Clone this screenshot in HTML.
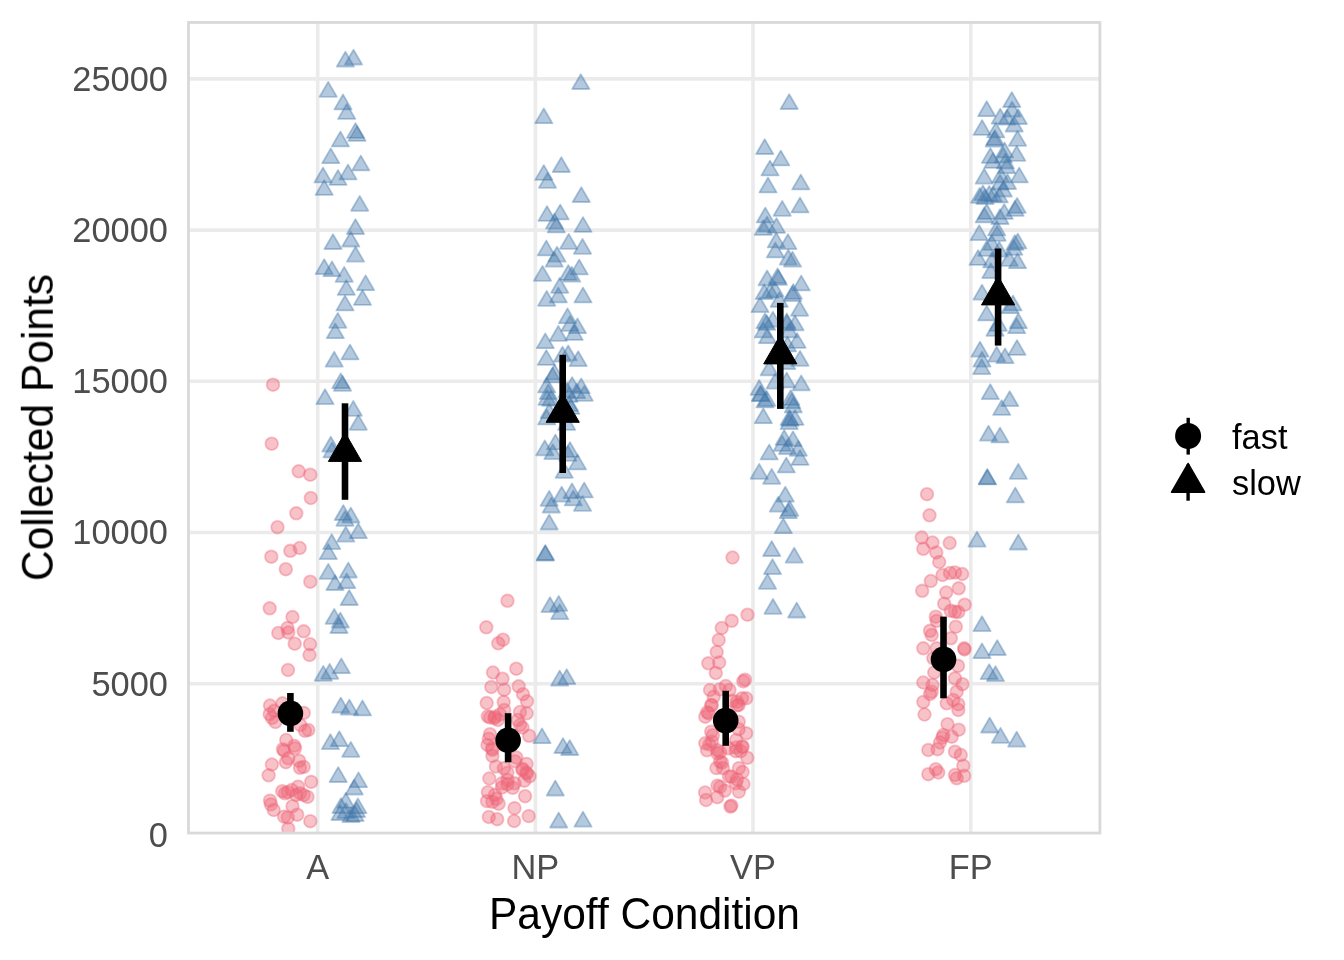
<!DOCTYPE html>
<html><head><meta charset="utf-8"><style>html,body{margin:0;padding:0;background:#fff;overflow:hidden}svg{display:block}text{font-family:"Liberation Sans",sans-serif}</style></head>
<body><svg width="1344" height="960" viewBox="0 0 1344 960"><rect width="1344" height="960" fill="#fff"/><g stroke="#EBEBEB" stroke-width="3.6"><line x1="188.5" x2="1099.9" y1="683.8" y2="683.8"/><line x1="188.5" x2="1099.9" y1="532.5" y2="532.5"/><line x1="188.5" x2="1099.9" y1="381.3" y2="381.3"/><line x1="188.5" x2="1099.9" y1="230.1" y2="230.1"/><line x1="188.5" x2="1099.9" y1="78.9" y2="78.9"/><line x1="317.7" x2="317.7" y1="22.4" y2="833"/><line x1="535.4" x2="535.4" y1="22.4" y2="833"/><line x1="753.0" x2="753.0" y1="22.4" y2="833"/><line x1="970.8" x2="970.8" y1="22.4" y2="833"/></g><defs><clipPath id="cp"><rect x="188.5" y="22.45" width="911.4" height="810.6"/></clipPath></defs><g clip-path="url(#cp)" fill="#EE6677" fill-opacity="0.4" stroke="#EE6677" stroke-opacity="0.4" stroke-width="1.8"><circle cx="273.0" cy="384.7" r="6.3"/><circle cx="271.7" cy="443.7" r="6.3"/><circle cx="298.7" cy="471.3" r="6.3"/><circle cx="310.3" cy="474.7" r="6.3"/><circle cx="310.8" cy="498.0" r="6.3"/><circle cx="296.3" cy="513.3" r="6.3"/><circle cx="277.5" cy="527.2" r="6.3"/><circle cx="299.7" cy="548.0" r="6.3"/><circle cx="290.3" cy="550.8" r="6.3"/><circle cx="271.3" cy="556.7" r="6.3"/><circle cx="285.8" cy="569.2" r="6.3"/><circle cx="310.3" cy="581.7" r="6.3"/><circle cx="269.7" cy="608.3" r="6.3"/><circle cx="292.5" cy="617.0" r="6.3"/><circle cx="287.5" cy="628.0" r="6.3"/><circle cx="278.3" cy="633.0" r="6.3"/><circle cx="288.3" cy="632.5" r="6.3"/><circle cx="303.7" cy="631.3" r="6.3"/><circle cx="294.7" cy="643.7" r="6.3"/><circle cx="310.0" cy="644.2" r="6.3"/><circle cx="309.5" cy="655.0" r="6.3"/><circle cx="288.0" cy="670.0" r="6.3"/><circle cx="270.0" cy="705.5" r="6.3"/><circle cx="269.7" cy="714.2" r="6.3"/><circle cx="275.4" cy="722.0" r="6.3"/><circle cx="274.2" cy="710.8" r="6.3"/><circle cx="282.5" cy="703.3" r="6.3"/><circle cx="303.8" cy="712.9" r="6.3"/><circle cx="300.4" cy="725.0" r="6.3"/><circle cx="308.3" cy="730.0" r="6.3"/><circle cx="305.0" cy="730.8" r="6.3"/><circle cx="286.2" cy="740.0" r="6.3"/><circle cx="294.2" cy="745.8" r="6.3"/><circle cx="282.9" cy="749.2" r="6.3"/><circle cx="271.9" cy="764.5" r="6.3"/><circle cx="285.9" cy="762.2" r="6.3"/><circle cx="299.1" cy="760.8" r="6.3"/><circle cx="303.7" cy="766.9" r="6.3"/><circle cx="300.0" cy="767.8" r="6.3"/><circle cx="268.6" cy="775.3" r="6.3"/><circle cx="282.2" cy="791.2" r="6.3"/><circle cx="287.8" cy="792.2" r="6.3"/><circle cx="298.1" cy="786.6" r="6.3"/><circle cx="311.2" cy="781.9" r="6.3"/><circle cx="307.5" cy="796.9" r="6.3"/><circle cx="296.2" cy="795.0" r="6.3"/><circle cx="303.7" cy="795.0" r="6.3"/><circle cx="270.0" cy="800.6" r="6.3"/><circle cx="270.9" cy="804.4" r="6.3"/><circle cx="273.7" cy="810.0" r="6.3"/><circle cx="292.5" cy="806.2" r="6.3"/><circle cx="284.1" cy="816.6" r="6.3"/><circle cx="297.2" cy="814.7" r="6.3"/><circle cx="287.8" cy="817.5" r="6.3"/><circle cx="310.3" cy="821.2" r="6.3"/><circle cx="288.3" cy="828.7" r="6.3"/><circle cx="272.0" cy="718.0" r="6.3"/><circle cx="284.2" cy="750.8" r="6.3"/><circle cx="288.3" cy="758.3" r="6.3"/><circle cx="295.0" cy="748.3" r="6.3"/><circle cx="291.7" cy="790.0" r="6.3"/><circle cx="300.0" cy="793.3" r="6.3"/><circle cx="285.0" cy="793.3" r="6.3"/><circle cx="507.5" cy="600.8" r="6.3"/><circle cx="486.3" cy="627.3" r="6.3"/><circle cx="503.0" cy="639.7" r="6.3"/><circle cx="498.3" cy="643.3" r="6.3"/><circle cx="493.0" cy="672.5" r="6.3"/><circle cx="516.3" cy="668.7" r="6.3"/><circle cx="502.5" cy="678.7" r="6.3"/><circle cx="491.3" cy="687.0" r="6.3"/><circle cx="504.2" cy="689.7" r="6.3"/><circle cx="518.7" cy="686.3" r="6.3"/><circle cx="523.0" cy="694.2" r="6.3"/><circle cx="527.0" cy="701.3" r="6.3"/><circle cx="486.7" cy="703.0" r="6.3"/><circle cx="503.7" cy="702.0" r="6.3"/><circle cx="520.0" cy="712.0" r="6.3"/><circle cx="526.7" cy="713.3" r="6.3"/><circle cx="490.0" cy="717.5" r="6.3"/><circle cx="495.0" cy="716.7" r="6.3"/><circle cx="504.2" cy="710.0" r="6.3"/><circle cx="497.8" cy="720.0" r="6.3"/><circle cx="520.0" cy="725.0" r="6.3"/><circle cx="529.2" cy="735.8" r="6.3"/><circle cx="490.0" cy="734.2" r="6.3"/><circle cx="487.5" cy="745.0" r="6.3"/><circle cx="492.0" cy="748.3" r="6.3"/><circle cx="492.4" cy="756.0" r="6.3"/><circle cx="516.3" cy="757.5" r="6.3"/><circle cx="526.5" cy="763.9" r="6.3"/><circle cx="495.9" cy="766.5" r="6.3"/><circle cx="503.9" cy="768.3" r="6.3"/><circle cx="522.5" cy="770.0" r="6.3"/><circle cx="526.9" cy="773.6" r="6.3"/><circle cx="529.6" cy="776.3" r="6.3"/><circle cx="489.3" cy="778.5" r="6.3"/><circle cx="507.4" cy="772.7" r="6.3"/><circle cx="502.1" cy="783.3" r="6.3"/><circle cx="507.4" cy="784.2" r="6.3"/><circle cx="514.5" cy="783.3" r="6.3"/><circle cx="524.3" cy="780.7" r="6.3"/><circle cx="512.7" cy="787.8" r="6.3"/><circle cx="487.9" cy="792.2" r="6.3"/><circle cx="495.0" cy="794.9" r="6.3"/><circle cx="487.0" cy="801.1" r="6.3"/><circle cx="492.4" cy="801.9" r="6.3"/><circle cx="498.6" cy="803.7" r="6.3"/><circle cx="525.1" cy="796.2" r="6.3"/><circle cx="514.5" cy="808.1" r="6.3"/><circle cx="488.8" cy="817.0" r="6.3"/><circle cx="497.2" cy="819.2" r="6.3"/><circle cx="514.1" cy="821.0" r="6.3"/><circle cx="528.7" cy="816.1" r="6.3"/><circle cx="487.8" cy="716.3" r="6.3"/><circle cx="494.4" cy="718.1" r="6.3"/><circle cx="500.0" cy="714.4" r="6.3"/><circle cx="517.8" cy="720.0" r="6.3"/><circle cx="522.5" cy="727.5" r="6.3"/><circle cx="492.5" cy="750.0" r="6.3"/><circle cx="488.8" cy="738.8" r="6.3"/><circle cx="522.5" cy="768.8" r="6.3"/><circle cx="526.3" cy="772.5" r="6.3"/><circle cx="515.0" cy="761.3" r="6.3"/><circle cx="507.5" cy="780.0" r="6.3"/><circle cx="501.9" cy="787.5" r="6.3"/><circle cx="496.3" cy="798.8" r="6.3"/><circle cx="732.5" cy="557.5" r="6.3"/><circle cx="747.5" cy="614.7" r="6.3"/><circle cx="731.7" cy="620.8" r="6.3"/><circle cx="721.7" cy="628.0" r="6.3"/><circle cx="718.7" cy="640.0" r="6.3"/><circle cx="716.7" cy="652.0" r="6.3"/><circle cx="708.3" cy="663.3" r="6.3"/><circle cx="719.2" cy="662.5" r="6.3"/><circle cx="715.8" cy="673.0" r="6.3"/><circle cx="745.0" cy="679.7" r="6.3"/><circle cx="743.3" cy="681.3" r="6.3"/><circle cx="710.0" cy="690.0" r="6.3"/><circle cx="725.8" cy="686.0" r="6.3"/><circle cx="729.5" cy="690.0" r="6.3"/><circle cx="713.7" cy="696.7" r="6.3"/><circle cx="742.0" cy="698.3" r="6.3"/><circle cx="746.2" cy="698.3" r="6.3"/><circle cx="737.0" cy="701.7" r="6.3"/><circle cx="738.7" cy="705.0" r="6.3"/><circle cx="711.2" cy="705.0" r="6.3"/><circle cx="705.3" cy="716.7" r="6.3"/><circle cx="708.7" cy="713.3" r="6.3"/><circle cx="738.7" cy="721.7" r="6.3"/><circle cx="711.2" cy="731.7" r="6.3"/><circle cx="746.2" cy="733.3" r="6.3"/><circle cx="738.7" cy="729.2" r="6.3"/><circle cx="705.3" cy="743.3" r="6.3"/><circle cx="712.0" cy="741.7" r="6.3"/><circle cx="736.2" cy="740.0" r="6.3"/><circle cx="742.0" cy="746.7" r="6.3"/><circle cx="728.7" cy="748.3" r="6.3"/><circle cx="717.0" cy="750.0" r="6.3"/><circle cx="707.0" cy="750.3" r="6.3"/><circle cx="720.1" cy="752.2" r="6.3"/><circle cx="736.0" cy="747.5" r="6.3"/><circle cx="740.7" cy="751.2" r="6.3"/><circle cx="747.3" cy="757.8" r="6.3"/><circle cx="720.1" cy="761.6" r="6.3"/><circle cx="716.4" cy="768.1" r="6.3"/><circle cx="723.0" cy="768.1" r="6.3"/><circle cx="738.9" cy="768.1" r="6.3"/><circle cx="742.6" cy="771.9" r="6.3"/><circle cx="731.4" cy="776.6" r="6.3"/><circle cx="737.0" cy="779.4" r="6.3"/><circle cx="743.5" cy="784.0" r="6.3"/><circle cx="720.1" cy="786.9" r="6.3"/><circle cx="724.8" cy="790.6" r="6.3"/><circle cx="738.9" cy="791.6" r="6.3"/><circle cx="705.1" cy="792.5" r="6.3"/><circle cx="706.1" cy="800.0" r="6.3"/><circle cx="717.3" cy="797.2" r="6.3"/><circle cx="731.4" cy="805.6" r="6.3"/><circle cx="730.4" cy="806.6" r="6.3"/><circle cx="719.8" cy="689.4" r="6.3"/><circle cx="711.8" cy="705.4" r="6.3"/><circle cx="707.2" cy="712.3" r="6.3"/><circle cx="732.4" cy="700.8" r="6.3"/><circle cx="737.0" cy="705.4" r="6.3"/><circle cx="709.5" cy="744.4" r="6.3"/><circle cx="712.9" cy="735.2" r="6.3"/><circle cx="717.5" cy="753.5" r="6.3"/><circle cx="735.8" cy="751.2" r="6.3"/><circle cx="742.7" cy="746.7" r="6.3"/><circle cx="722.1" cy="762.7" r="6.3"/><circle cx="729.0" cy="776.4" r="6.3"/><circle cx="717.5" cy="785.6" r="6.3"/><circle cx="735.8" cy="783.3" r="6.3"/><circle cx="927.0" cy="494.2" r="6.3"/><circle cx="929.5" cy="515.3" r="6.3"/><circle cx="921.7" cy="537.5" r="6.3"/><circle cx="932.5" cy="542.5" r="6.3"/><circle cx="949.7" cy="543.0" r="6.3"/><circle cx="923.3" cy="548.8" r="6.3"/><circle cx="936.3" cy="552.5" r="6.3"/><circle cx="939.2" cy="562.0" r="6.3"/><circle cx="942.5" cy="575.0" r="6.3"/><circle cx="950.0" cy="573.0" r="6.3"/><circle cx="955.0" cy="572.5" r="6.3"/><circle cx="962.2" cy="574.0" r="6.3"/><circle cx="930.8" cy="581.0" r="6.3"/><circle cx="922.2" cy="590.8" r="6.3"/><circle cx="946.2" cy="592.5" r="6.3"/><circle cx="958.7" cy="588.3" r="6.3"/><circle cx="944.2" cy="603.7" r="6.3"/><circle cx="964.7" cy="604.7" r="6.3"/><circle cx="950.8" cy="610.8" r="6.3"/><circle cx="955.0" cy="611.7" r="6.3"/><circle cx="958.3" cy="612.0" r="6.3"/><circle cx="935.8" cy="616.7" r="6.3"/><circle cx="936.7" cy="620.8" r="6.3"/><circle cx="955.8" cy="626.7" r="6.3"/><circle cx="930.0" cy="630.8" r="6.3"/><circle cx="931.7" cy="635.0" r="6.3"/><circle cx="950.8" cy="638.3" r="6.3"/><circle cx="923.3" cy="648.3" r="6.3"/><circle cx="964.2" cy="648.3" r="6.3"/><circle cx="964.5" cy="649.5" r="6.3"/><circle cx="936.7" cy="648.3" r="6.3"/><circle cx="933.3" cy="658.3" r="6.3"/><circle cx="958.0" cy="665.8" r="6.3"/><circle cx="934.2" cy="672.5" r="6.3"/><circle cx="923.3" cy="682.5" r="6.3"/><circle cx="932.5" cy="685.0" r="6.3"/><circle cx="931.7" cy="691.7" r="6.3"/><circle cx="955.0" cy="678.3" r="6.3"/><circle cx="962.5" cy="684.2" r="6.3"/><circle cx="956.7" cy="691.7" r="6.3"/><circle cx="930.0" cy="694.0" r="6.3"/><circle cx="923.3" cy="702.0" r="6.3"/><circle cx="946.7" cy="703.3" r="6.3"/><circle cx="953.3" cy="700.0" r="6.3"/><circle cx="958.3" cy="704.2" r="6.3"/><circle cx="958.3" cy="710.0" r="6.3"/><circle cx="924.5" cy="714.5" r="6.3"/><circle cx="947.5" cy="724.2" r="6.3"/><circle cx="958.7" cy="729.7" r="6.3"/><circle cx="943.3" cy="735.0" r="6.3"/><circle cx="942.5" cy="737.5" r="6.3"/><circle cx="951.7" cy="736.7" r="6.3"/><circle cx="940.0" cy="742.5" r="6.3"/><circle cx="937.5" cy="749.2" r="6.3"/><circle cx="928.3" cy="750.0" r="6.3"/><circle cx="955.0" cy="751.7" r="6.3"/><circle cx="960.8" cy="755.0" r="6.3"/><circle cx="963.3" cy="765.8" r="6.3"/><circle cx="935.8" cy="769.2" r="6.3"/><circle cx="938.3" cy="772.5" r="6.3"/><circle cx="928.3" cy="774.2" r="6.3"/><circle cx="955.0" cy="775.0" r="6.3"/><circle cx="956.7" cy="778.3" r="6.3"/><circle cx="964.2" cy="775.8" r="6.3"/></g><g clip-path="url(#cp)" fill="#4477AA" fill-opacity="0.4" stroke="#4477AA" stroke-opacity="0.4" stroke-width="1.8" stroke-linejoin="round"><path d="M345.4 51.7L354.0 66.5L336.8 66.5Z"/><path d="M353.5 49.7L362.1 64.5L344.9 64.5Z"/><path d="M328.2 81.9L336.8 96.8L319.6 96.8Z"/><path d="M343.0 94.5L351.6 109.4L334.4 109.4Z"/><path d="M346.7 104.0L355.3 118.9L338.1 118.9Z"/><path d="M355.5 123.1L364.1 137.9L346.9 137.9Z"/><path d="M357.0 126.1L365.6 140.9L348.4 140.9Z"/><path d="M340.4 131.6L349.0 146.4L331.8 146.4Z"/><path d="M330.8 148.4L339.4 163.2L322.2 163.2Z"/><path d="M360.8 155.6L369.4 170.4L352.2 170.4Z"/><path d="M323.0 167.6L331.6 182.4L314.4 182.4Z"/><path d="M348.0 164.6L356.6 179.4L339.4 179.4Z"/><path d="M338.0 170.1L346.6 184.9L329.4 184.9Z"/><path d="M324.2 180.1L332.8 194.9L315.6 194.9Z"/><path d="M359.7 195.9L368.3 210.8L351.1 210.8Z"/><path d="M355.5 219.2L364.1 234.0L346.9 234.0Z"/><path d="M333.0 234.2L341.6 249.0L324.4 249.0Z"/><path d="M350.8 231.7L359.4 246.5L342.2 246.5Z"/><path d="M355.5 246.7L364.1 261.6L346.9 261.6Z"/><path d="M324.2 259.2L332.8 274.1L315.6 274.1Z"/><path d="M332.0 261.4L340.6 276.2L323.4 276.2Z"/><path d="M344.2 266.9L352.8 281.8L335.6 281.8Z"/><path d="M365.6 275.4L374.2 290.2L357.0 290.2Z"/><path d="M346.3 280.1L354.9 294.9L337.7 294.9Z"/><path d="M362.5 290.1L371.1 304.9L353.9 304.9Z"/><path d="M345.0 295.6L353.6 310.4L336.4 310.4Z"/><path d="M337.8 312.9L346.4 327.8L329.2 327.8Z"/><path d="M335.3 323.4L343.9 338.2L326.7 338.2Z"/><path d="M350.0 344.6L358.6 359.4L341.4 359.4Z"/><path d="M334.2 351.7L342.8 366.6L325.6 366.6Z"/><path d="M340.8 373.4L349.4 388.2L332.2 388.2Z"/><path d="M342.5 375.9L351.1 390.8L333.9 390.8Z"/><path d="M325.0 389.2L333.6 404.1L316.4 404.1Z"/><path d="M353.3 400.9L361.9 415.8L344.7 415.8Z"/><path d="M358.3 414.9L366.9 429.8L349.7 429.8Z"/><path d="M330.8 436.7L339.4 451.6L322.2 451.6Z"/><path d="M332.0 442.6L340.6 457.4L323.4 457.4Z"/><path d="M343.3 505.1L351.9 520.0L334.7 520.0Z"/><path d="M350.8 507.6L359.4 522.5L342.2 522.5Z"/><path d="M345.0 510.9L353.6 525.8L336.4 525.8Z"/><path d="M358.3 523.4L366.9 538.2L349.7 538.2Z"/><path d="M345.8 526.7L354.4 541.6L337.2 541.6Z"/><path d="M331.7 534.2L340.3 549.1L323.1 549.1Z"/><path d="M328.3 544.2L336.9 559.1L319.7 559.1Z"/><path d="M328.3 563.9L336.9 578.8L319.7 578.8Z"/><path d="M348.3 562.6L356.9 577.5L339.7 577.5Z"/><path d="M335.0 575.1L343.6 590.0L326.4 590.0Z"/><path d="M346.7 573.4L355.3 588.2L338.1 588.2Z"/><path d="M349.2 590.1L357.8 605.0L340.6 605.0Z"/><path d="M334.2 608.9L342.8 623.8L325.6 623.8Z"/><path d="M340.3 612.6L348.9 627.5L331.7 627.5Z"/><path d="M339.0 618.1L347.6 633.0L330.4 633.0Z"/><path d="M341.3 658.4L349.9 673.2L332.7 673.2Z"/><path d="M329.7 663.9L338.3 678.8L321.1 678.8Z"/><path d="M323.3 665.9L331.9 680.8L314.7 680.8Z"/><path d="M340.8 697.6L349.4 712.5L332.2 712.5Z"/><path d="M349.4 699.6L358.0 714.5L340.8 714.5Z"/><path d="M362.5 700.5L371.1 715.4L353.9 715.4Z"/><path d="M330.4 734.2L339.0 749.1L321.8 749.1Z"/><path d="M339.3 731.3L347.9 746.2L330.7 746.2Z"/><path d="M350.8 741.9L359.4 756.8L342.2 756.8Z"/><path d="M338.2 767.1L346.8 782.0L329.6 782.0Z"/><path d="M358.5 772.4L367.1 787.2L349.9 787.2Z"/><path d="M354.2 779.6L362.8 794.5L345.6 794.5Z"/><path d="M345.8 793.0L354.4 807.9L337.2 807.9Z"/><path d="M341.0 798.1L349.6 813.0L332.4 813.0Z"/><path d="M357.9 798.4L366.5 813.2L349.3 813.2Z"/><path d="M356.5 802.1L365.1 817.0L347.9 817.0Z"/><path d="M346.0 803.1L354.6 818.0L337.4 818.0Z"/><path d="M351.0 807.1L359.6 822.0L342.4 822.0Z"/><path d="M340.0 805.1L348.6 820.0L331.4 820.0Z"/><path d="M355.0 806.1L363.6 821.0L346.4 821.0Z"/><path d="M580.8 74.2L589.4 89.0L572.2 89.0Z"/><path d="M543.8 108.4L552.4 123.2L535.2 123.2Z"/><path d="M561.3 157.2L569.9 172.0L552.7 172.0Z"/><path d="M543.8 165.1L552.4 179.9L535.2 179.9Z"/><path d="M547.5 172.9L556.1 187.8L538.9 187.8Z"/><path d="M581.3 187.2L589.9 202.0L572.7 202.0Z"/><path d="M547.0 206.1L555.6 220.9L538.4 220.9Z"/><path d="M560.2 204.6L568.8 219.4L551.6 219.4Z"/><path d="M554.5 213.8L563.1 228.6L545.9 228.6Z"/><path d="M556.3 217.6L564.9 232.4L547.7 232.4Z"/><path d="M583.0 217.1L591.6 231.9L574.4 231.9Z"/><path d="M546.3 240.6L554.9 255.4L537.7 255.4Z"/><path d="M568.7 233.9L577.3 248.8L560.1 248.8Z"/><path d="M582.5 238.9L591.1 253.8L573.9 253.8Z"/><path d="M557.0 246.7L565.6 261.6L548.4 261.6Z"/><path d="M554.2 251.7L562.8 266.6L545.6 266.6Z"/><path d="M542.5 265.9L551.1 280.8L533.9 280.8Z"/><path d="M579.2 259.6L587.8 274.4L570.6 274.4Z"/><path d="M568.3 265.1L576.9 279.9L559.7 279.9Z"/><path d="M571.7 266.7L580.3 281.6L563.1 281.6Z"/><path d="M559.7 277.9L568.3 292.8L551.1 292.8Z"/><path d="M558.3 287.6L566.9 302.4L549.7 302.4Z"/><path d="M546.7 290.9L555.3 305.8L538.1 305.8Z"/><path d="M583.0 287.6L591.6 302.4L574.4 302.4Z"/><path d="M567.5 308.4L576.1 323.2L558.9 323.2Z"/><path d="M570.0 315.9L578.6 330.8L561.4 330.8Z"/><path d="M577.5 318.4L586.1 333.2L568.9 333.2Z"/><path d="M558.3 325.9L566.9 340.8L549.7 340.8Z"/><path d="M574.2 325.1L582.8 339.9L565.6 339.9Z"/><path d="M545.3 333.4L553.9 348.2L536.7 348.2Z"/><path d="M546.3 350.1L554.9 364.9L537.7 364.9Z"/><path d="M562.5 346.7L571.1 361.6L553.9 361.6Z"/><path d="M568.2 345.5L576.8 360.3L559.6 360.3Z"/><path d="M578.2 351.3L586.8 366.1L569.6 366.1Z"/><path d="M554.6 364.6L563.2 379.4L546.0 379.4Z"/><path d="M552.5 367.6L561.1 382.4L543.9 382.4Z"/><path d="M546.7 377.6L555.3 392.4L538.1 392.4Z"/><path d="M548.3 384.3L556.9 399.1L539.7 399.1Z"/><path d="M547.0 390.1L555.6 404.9L538.4 404.9Z"/><path d="M550.8 390.9L559.4 405.8L542.2 405.8Z"/><path d="M572.1 377.1L580.7 391.9L563.5 391.9Z"/><path d="M581.2 378.4L589.8 393.2L572.7 393.2Z"/><path d="M567.1 382.6L575.7 397.4L558.5 397.4Z"/><path d="M576.7 383.4L585.3 398.2L568.1 398.2Z"/><path d="M584.2 385.9L592.8 400.8L575.6 400.8Z"/><path d="M569.0 387.1L577.6 401.9L560.4 401.9Z"/><path d="M549.2 403.4L557.8 418.2L540.6 418.2Z"/><path d="M546.7 409.6L555.3 424.4L538.1 424.4Z"/><path d="M569.2 395.9L577.8 410.8L560.6 410.8Z"/><path d="M570.8 399.1L579.4 413.9L562.2 413.9Z"/><path d="M566.7 415.1L575.3 429.9L558.1 429.9Z"/><path d="M555.4 434.6L564.0 449.4L546.8 449.4Z"/><path d="M544.8 440.5L553.4 455.3L536.2 455.3Z"/><path d="M552.9 444.2L561.5 459.1L544.3 459.1Z"/><path d="M570.0 442.1L578.6 456.9L561.4 456.9Z"/><path d="M567.9 445.9L576.5 460.8L559.3 460.8Z"/><path d="M577.5 454.6L586.1 469.4L568.9 469.4Z"/><path d="M564.2 463.0L572.8 477.8L555.6 477.8Z"/><path d="M549.2 490.9L557.8 505.8L540.6 505.8Z"/><path d="M561.7 486.7L570.3 501.6L553.1 501.6Z"/><path d="M572.0 483.4L580.6 498.2L563.4 498.2Z"/><path d="M584.2 482.6L592.8 497.4L575.6 497.4Z"/><path d="M573.3 490.6L581.9 505.4L564.7 505.4Z"/><path d="M582.5 495.9L591.1 510.8L573.9 510.8Z"/><path d="M551.3 497.6L559.9 512.5L542.7 512.5Z"/><path d="M549.2 514.6L557.8 529.5L540.6 529.5Z"/><path d="M545.3 545.1L553.9 560.0L536.7 560.0Z"/><path d="M545.3 545.6L553.9 560.5L536.7 560.5Z"/><path d="M550.0 597.2L558.6 612.1L541.4 612.1Z"/><path d="M558.7 595.9L567.3 610.8L550.1 610.8Z"/><path d="M559.7 604.2L568.3 619.1L551.1 619.1Z"/><path d="M559.7 670.6L568.3 685.5L551.1 685.5Z"/><path d="M566.7 669.2L575.3 684.1L558.1 684.1Z"/><path d="M542.0 728.4L550.6 743.2L533.4 743.2Z"/><path d="M563.0 738.1L571.6 753.0L554.4 753.0Z"/><path d="M569.7 740.1L578.3 755.0L561.1 755.0Z"/><path d="M555.3 780.6L563.9 795.5L546.7 795.5Z"/><path d="M558.7 812.6L567.3 827.5L550.1 827.5Z"/><path d="M583.0 811.7L591.6 826.6L574.4 826.6Z"/><path d="M789.2 94.2L797.8 109.0L780.6 109.0Z"/><path d="M764.7 139.2L773.3 154.0L756.1 154.0Z"/><path d="M780.8 150.6L789.4 165.4L772.2 165.4Z"/><path d="M770.0 160.6L778.6 175.4L761.4 175.4Z"/><path d="M768.0 177.6L776.6 192.4L759.4 192.4Z"/><path d="M800.8 174.6L809.4 189.4L792.2 189.4Z"/><path d="M782.2 200.9L790.8 215.8L773.6 215.8Z"/><path d="M800.0 197.6L808.6 212.4L791.4 212.4Z"/><path d="M765.3 207.6L773.9 222.4L756.7 222.4Z"/><path d="M767.0 216.7L775.6 231.5L758.4 231.5Z"/><path d="M763.3 220.1L771.9 234.9L754.7 234.9Z"/><path d="M776.5 218.1L785.1 232.9L767.9 232.9Z"/><path d="M776.2 232.6L784.8 247.4L767.7 247.4Z"/><path d="M787.9 234.3L796.5 249.1L779.3 249.1Z"/><path d="M775.4 242.6L784.0 257.4L766.8 257.4Z"/><path d="M788.3 249.7L796.9 264.6L779.7 264.6Z"/><path d="M792.5 251.8L801.1 266.6L783.9 266.6Z"/><path d="M767.1 270.5L775.7 285.3L758.5 285.3Z"/><path d="M777.5 268.4L786.1 283.2L768.9 283.2Z"/><path d="M778.3 270.1L786.9 284.9L769.7 284.9Z"/><path d="M801.2 275.6L809.8 290.4L792.7 290.4Z"/><path d="M793.3 284.1L801.9 298.9L784.7 298.9Z"/><path d="M764.2 284.3L772.8 299.1L755.6 299.1Z"/><path d="M770.0 283.1L778.6 297.9L761.4 297.9Z"/><path d="M775.0 281.8L783.6 296.6L766.4 296.6Z"/><path d="M792.5 286.3L801.1 301.1L783.9 301.1Z"/><path d="M779.2 292.1L787.8 306.9L770.6 306.9Z"/><path d="M760.0 297.2L768.6 312.1L751.4 312.1Z"/><path d="M799.6 300.9L808.2 315.8L791.0 315.8Z"/><path d="M772.9 311.7L781.5 326.6L764.3 326.6Z"/><path d="M766.7 315.1L775.3 329.9L758.1 329.9Z"/><path d="M765.0 313.4L773.6 328.2L756.4 328.2Z"/><path d="M787.1 315.1L795.7 329.9L778.5 329.9Z"/><path d="M789.2 322.6L797.8 337.4L780.6 337.4Z"/><path d="M795.0 315.5L803.6 330.3L786.4 330.3Z"/><path d="M763.3 322.6L771.9 337.4L754.7 337.4Z"/><path d="M767.5 328.4L776.1 343.2L758.9 343.2Z"/><path d="M797.1 333.1L805.7 347.9L788.5 347.9Z"/><path d="M787.5 336.6L796.1 351.4L778.9 351.4Z"/><path d="M800.0 350.9L808.6 365.8L791.4 365.8Z"/><path d="M786.7 313.4L795.3 328.2L778.1 328.2Z"/><path d="M786.7 354.3L795.3 369.1L778.1 369.1Z"/><path d="M769.2 360.5L777.8 375.3L760.6 375.3Z"/><path d="M775.0 373.8L783.6 388.6L766.4 388.6Z"/><path d="M786.7 372.6L795.3 387.4L778.1 387.4Z"/><path d="M801.2 375.5L809.8 390.3L792.7 390.3Z"/><path d="M759.2 380.1L767.8 394.9L750.6 394.9Z"/><path d="M760.4 386.3L769.0 401.1L751.8 401.1Z"/><path d="M765.0 392.6L773.6 407.4L756.4 407.4Z"/><path d="M766.7 390.9L775.3 405.8L758.1 405.8Z"/><path d="M760.8 385.9L769.4 400.8L752.2 400.8Z"/><path d="M790.8 390.1L799.4 404.9L782.2 404.9Z"/><path d="M791.7 393.4L800.3 408.2L783.1 408.2Z"/><path d="M793.3 397.6L801.9 412.4L784.7 412.4Z"/><path d="M763.3 408.4L771.9 423.2L754.7 423.2Z"/><path d="M789.2 410.1L797.8 424.9L780.6 424.9Z"/><path d="M790.0 410.9L798.6 425.8L781.4 425.8Z"/><path d="M789.2 414.2L797.8 429.1L780.6 429.1Z"/><path d="M795.0 410.1L803.6 424.9L786.4 424.9Z"/><path d="M784.2 430.1L792.8 444.9L775.6 444.9Z"/><path d="M793.0 431.4L801.6 446.2L784.4 446.2Z"/><path d="M787.5 439.2L796.1 454.1L778.9 454.1Z"/><path d="M798.3 440.9L806.9 455.8L789.7 455.8Z"/><path d="M800.0 450.1L808.6 464.9L791.4 464.9Z"/><path d="M769.2 444.6L777.8 459.4L760.6 459.4Z"/><path d="M786.3 457.6L794.9 472.4L777.7 472.4Z"/><path d="M759.2 463.9L767.8 478.8L750.6 478.8Z"/><path d="M771.7 468.9L780.3 483.8L763.1 483.8Z"/><path d="M785.3 486.7L793.9 501.6L776.7 501.6Z"/><path d="M778.3 496.7L786.9 511.6L769.7 511.6Z"/><path d="M789.7 500.9L798.3 515.8L781.1 515.8Z"/><path d="M788.3 503.4L796.9 518.2L779.7 518.2Z"/><path d="M783.3 518.4L791.9 533.2L774.7 533.2Z"/><path d="M771.7 541.1L780.3 556.0L763.1 556.0Z"/><path d="M794.2 547.7L802.8 562.6L785.6 562.6Z"/><path d="M772.5 559.2L781.1 574.1L763.9 574.1Z"/><path d="M767.5 573.9L776.1 588.8L758.9 588.8Z"/><path d="M773.0 598.9L781.6 613.8L764.4 613.8Z"/><path d="M796.7 602.6L805.3 617.5L788.1 617.5Z"/><path d="M782.3 435.9L790.9 450.8L773.7 450.8Z"/><path d="M1011.8 92.1L1020.4 107.0L1003.2 107.0Z"/><path d="M986.7 101.3L995.3 116.2L978.1 116.2Z"/><path d="M1012.1 101.7L1020.7 116.5L1003.5 116.5Z"/><path d="M1000.2 108.8L1008.8 123.7L991.6 123.7Z"/><path d="M1007.1 109.6L1015.7 124.5L998.5 124.5Z"/><path d="M1018.3 109.2L1026.9 124.0L1009.7 124.0Z"/><path d="M982.1 120.1L990.7 134.9L973.5 134.9Z"/><path d="M995.8 122.6L1004.4 137.4L987.2 137.4Z"/><path d="M1014.2 116.7L1022.8 131.5L1005.6 131.5Z"/><path d="M995.0 130.1L1003.6 144.9L986.4 144.9Z"/><path d="M994.2 131.7L1002.8 146.5L985.6 146.5Z"/><path d="M1017.5 130.9L1026.1 145.8L1008.9 145.8Z"/><path d="M1004.6 142.6L1013.2 157.4L996.0 157.4Z"/><path d="M1016.7 145.9L1025.3 160.8L1008.1 160.8Z"/><path d="M990.4 148.1L999.0 162.9L981.8 162.9Z"/><path d="M1005.4 153.6L1014.0 168.4L996.8 168.4Z"/><path d="M992.9 153.1L1001.5 167.9L984.3 167.9Z"/><path d="M1003.3 147.6L1011.9 162.4L994.7 162.4Z"/><path d="M1006.7 158.4L1015.3 173.2L998.1 173.2Z"/><path d="M984.2 168.8L992.8 183.6L975.6 183.6Z"/><path d="M1000.8 167.6L1009.4 182.4L992.2 182.4Z"/><path d="M1019.2 167.6L1027.8 182.4L1010.6 182.4Z"/><path d="M1000.0 174.7L1008.6 189.5L991.4 189.5Z"/><path d="M1007.5 174.2L1016.1 189.0L998.9 189.0Z"/><path d="M1003.3 181.7L1011.9 196.5L994.7 196.5Z"/><path d="M982.9 185.5L991.5 200.3L974.3 200.3Z"/><path d="M979.6 188.0L988.2 202.8L971.0 202.8Z"/><path d="M989.2 185.9L997.8 200.8L980.6 200.8Z"/><path d="M993.3 186.7L1001.9 201.5L984.7 201.5Z"/><path d="M999.2 187.6L1007.8 202.4L990.6 202.4Z"/><path d="M985.0 189.2L993.6 204.0L976.4 204.0Z"/><path d="M1017.1 198.0L1025.7 212.8L1008.5 212.8Z"/><path d="M1015.0 200.9L1023.6 215.8L1006.4 215.8Z"/><path d="M986.7 204.1L995.3 218.9L978.1 218.9Z"/><path d="M984.2 207.6L992.8 222.4L975.6 222.4Z"/><path d="M1004.2 204.1L1012.8 218.9L995.6 218.9Z"/><path d="M1000.0 209.2L1008.6 224.0L991.4 224.0Z"/><path d="M996.7 220.6L1005.3 235.4L988.1 235.4Z"/><path d="M979.2 225.3L987.8 240.1L970.6 240.1Z"/><path d="M997.1 225.9L1005.7 240.8L988.5 240.8Z"/><path d="M1017.8 233.6L1026.4 248.4L1009.2 248.4Z"/><path d="M1014.8 235.1L1023.4 249.9L1006.2 249.9Z"/><path d="M991.7 235.1L1000.3 249.9L983.1 249.9Z"/><path d="M986.7 240.9L995.3 255.8L978.1 255.8Z"/><path d="M999.2 241.7L1007.8 256.6L990.6 256.6Z"/><path d="M978.1 250.1L986.7 264.9L969.5 264.9Z"/><path d="M1009.2 250.9L1017.8 265.8L1000.6 265.8Z"/><path d="M1017.5 253.4L1026.1 268.2L1008.9 268.2Z"/><path d="M991.7 252.6L1000.3 267.4L983.1 267.4Z"/><path d="M1013.7 239.9L1022.3 254.8L1005.1 254.8Z"/><path d="M990.8 263.3L999.4 278.1L982.2 278.1Z"/><path d="M982.0 284.7L990.6 299.6L973.4 299.6Z"/><path d="M1013.0 295.6L1021.6 310.4L1004.4 310.4Z"/><path d="M1010.0 298.4L1018.6 313.2L1001.4 313.2Z"/><path d="M986.7 305.6L995.3 320.4L978.1 320.4Z"/><path d="M998.3 315.9L1006.9 330.8L989.7 330.8Z"/><path d="M995.0 320.9L1003.6 335.8L986.4 335.8Z"/><path d="M1018.3 313.4L1026.9 328.2L1009.7 328.2Z"/><path d="M1016.7 318.4L1025.3 333.2L1008.1 333.2Z"/><path d="M980.0 341.7L988.6 356.6L971.4 356.6Z"/><path d="M982.0 351.7L990.6 366.6L973.4 366.6Z"/><path d="M981.7 359.2L990.3 374.1L973.1 374.1Z"/><path d="M996.7 346.7L1005.3 361.6L988.1 361.6Z"/><path d="M1005.0 348.4L1013.6 363.2L996.4 363.2Z"/><path d="M1017.0 340.1L1025.6 354.9L1008.4 354.9Z"/><path d="M990.3 384.2L998.9 399.1L981.7 399.1Z"/><path d="M1009.7 391.2L1018.3 406.1L1001.1 406.1Z"/><path d="M1001.7 400.1L1010.3 414.9L993.1 414.9Z"/><path d="M988.5 425.7L997.1 440.6L979.9 440.6Z"/><path d="M1000.0 427.6L1008.6 442.4L991.4 442.4Z"/><path d="M1018.3 463.9L1026.9 478.8L1009.7 478.8Z"/><path d="M987.2 469.2L995.8 484.1L978.6 484.1Z"/><path d="M987.4 469.6L996.0 484.4L978.8 484.4Z"/><path d="M1015.3 487.6L1023.9 502.4L1006.7 502.4Z"/><path d="M977.0 531.7L985.6 546.6L968.4 546.6Z"/><path d="M1018.3 534.6L1026.9 549.5L1009.7 549.5Z"/><path d="M982.0 616.2L990.6 631.1L973.4 631.1Z"/><path d="M982.0 643.4L990.6 658.2L973.4 658.2Z"/><path d="M997.2 640.1L1005.8 655.0L988.6 655.0Z"/><path d="M989.2 664.2L997.8 679.1L980.6 679.1Z"/><path d="M995.5 666.2L1004.1 681.1L986.9 681.1Z"/><path d="M989.7 717.6L998.3 732.5L981.1 732.5Z"/><path d="M1000.5 727.9L1009.1 742.8L991.9 742.8Z"/><path d="M1016.7 731.7L1025.3 746.6L1008.1 746.6Z"/></g><rect x="188.5" y="22.45" width="911.4" height="810.6" fill="none" stroke="#D9D9D9" stroke-width="2.8"/><line x1="290.4" x2="290.4" y1="693.0" y2="731.8" stroke="#000" stroke-width="6.6"/><circle cx="290.4" cy="713.4" r="12.8" fill="#000"/><line x1="345.0" x2="345.0" y1="403.3" y2="499.8" stroke="#000" stroke-width="6.6"/><path d="M345.0 432.6L361.6 461.4L328.4 461.4Z" fill="#000" stroke="#000" stroke-width="1" stroke-linejoin="round"/><line x1="508.1" x2="508.1" y1="713.2" y2="762.3" stroke="#000" stroke-width="6.6"/><circle cx="508.1" cy="740.2" r="12.8" fill="#000"/><line x1="562.7" x2="562.7" y1="354.8" y2="473.0" stroke="#000" stroke-width="6.6"/><path d="M562.7 393.5L579.3 422.3L546.1 422.3Z" fill="#000" stroke="#000" stroke-width="1" stroke-linejoin="round"/><line x1="725.7" x2="725.7" y1="690.8" y2="745.8" stroke="#000" stroke-width="6.6"/><circle cx="725.7" cy="720.6" r="12.8" fill="#000"/><line x1="780.3" x2="780.3" y1="302.9" y2="408.9" stroke="#000" stroke-width="6.6"/><path d="M780.3 335.1L796.9 363.9L763.7 363.9Z" fill="#000" stroke="#000" stroke-width="1" stroke-linejoin="round"/><line x1="943.5" x2="943.5" y1="616.6" y2="698.3" stroke="#000" stroke-width="6.6"/><circle cx="943.5" cy="659.4" r="12.8" fill="#000"/><line x1="998.1" x2="998.1" y1="248.5" y2="345.6" stroke="#000" stroke-width="6.6"/><path d="M998.1 276.1L1014.7 304.9L981.5 304.9Z" fill="#000" stroke="#000" stroke-width="1" stroke-linejoin="round"/><line x1="1188.2" x2="1188.2" y1="417.8" y2="454.6" stroke="#000" stroke-width="3.4"/><circle cx="1188.1" cy="436.0" r="13.0" fill="#000"/><line x1="1188.1" x2="1188.1" y1="464.4" y2="500.7" stroke="#000" stroke-width="3.4"/><path d="M1188.1 463.4L1204.7 492.2L1171.5 492.2Z" fill="#000" stroke="#000" stroke-width="1.4" stroke-linejoin="round"/><g font-family="Liberation Sans, sans-serif" style="will-change:transform"><text x="168" y="846.9" text-anchor="end" fill="#4D4D4D" font-size="34.4">0</text><text x="168" y="695.7" text-anchor="end" fill="#4D4D4D" font-size="34.4">5000</text><text x="168" y="544.4" text-anchor="end" fill="#4D4D4D" font-size="34.4">10000</text><text x="168" y="393.2" text-anchor="end" fill="#4D4D4D" font-size="34.4">15000</text><text x="168" y="242.0" text-anchor="end" fill="#4D4D4D" font-size="34.4">20000</text><text x="168" y="90.8" text-anchor="end" fill="#4D4D4D" font-size="34.4">25000</text><text transform="translate(317.7 878.6) scale(1 1.04)" text-anchor="middle" fill="#4D4D4D" font-size="34.4">A</text><text transform="translate(535.4 878.6) scale(1 1.04)" text-anchor="middle" fill="#4D4D4D" font-size="34.4">NP</text><text transform="translate(753.0 878.6) scale(1 1.04)" text-anchor="middle" fill="#4D4D4D" font-size="34.4">VP</text><text transform="translate(970.8 878.6) scale(1 1.04)" text-anchor="middle" fill="#4D4D4D" font-size="34.4">FP</text><text transform="translate(644.5 928.7) scale(1 1.06)" text-anchor="middle" fill="#000" font-size="42.5">Payoff Condition</text><text transform="translate(53.2 427.5) rotate(-90) scale(1 1.06)" text-anchor="middle" fill="#000" font-size="42.5">Collected Points</text><text x="1232" y="448.7" fill="#000" font-size="34.4">fast</text><text x="1232" y="494.6" fill="#000" font-size="34.4">slow</text></g></svg></body></html>
